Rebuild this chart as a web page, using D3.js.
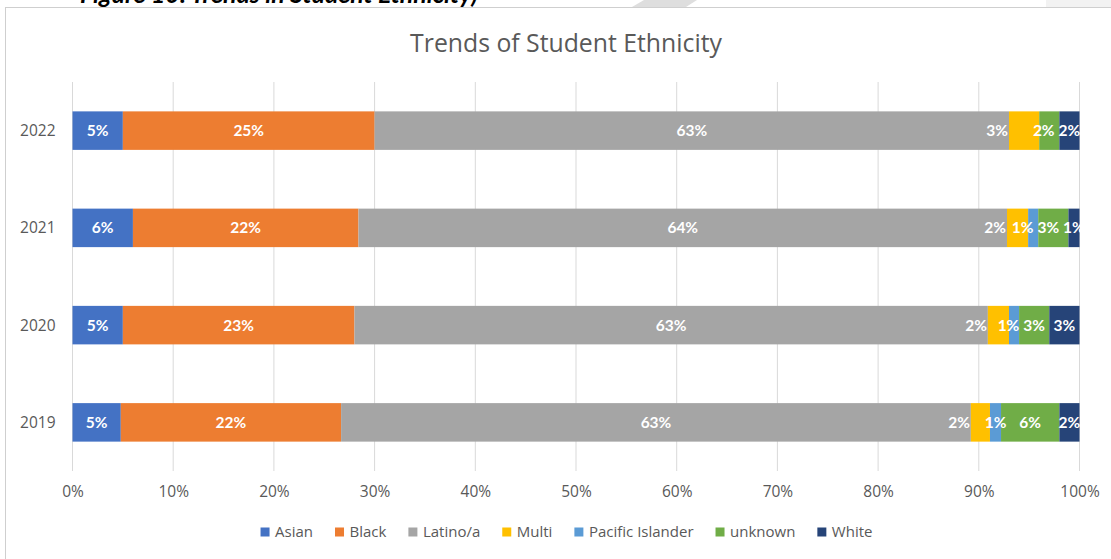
<!DOCTYPE html>
<html><head><meta charset="utf-8">
<script src="https://cdn.jsdelivr.net/npm/d3@7"></script>
<style>body{margin:0;background:#fff;overflow:hidden}</style>
</head><body>
<svg id="c" width="1111" height="559"></svg>
<script>
// ---- data ----
const years = ["2022", "2021", "2020", "2019"];
const seriesNames = ["Asian", "Black", "Latino/a", "Multi", "Pacific Islander", "unknown", "White"];
const asian   = [5.0, 6.0, 5.0, 4.8];
const black   = [25.0, 22.4, 23.0, 21.9];
const latino  = [63.0, 64.4, 62.9, 62.6];
const multi   = [3.0, 2.1, 2.1, 1.9];
const pacific = [0.0, 1.0, 1.0, 1.1];
const unknown = [2.0, 3.0, 3.0, 5.8];
const white   = [2.0, 1.1, 3.0, 2.0];
const xTickValues = [0, 0.1, 0.2, 0.3, 0.4, 0.5, 0.6, 0.7, 0.8, 0.9, 1.0];
const titleText = "Trends of Student Ethnicity";
const captionText = "Figure 10: Trends in Student Ethnicity)";

const seriesValues = [asian, black, latino, multi, pacific, unknown, white];
const colors = ["#4472C4", "#ED7D31", "#A5A5A5", "#FFC000", "#5B9BD5", "#70AD47", "#264478"];

const rows = years.map((y, i) => {
  const r = { year: y };
  seriesNames.forEach((s, k) => r[s] = seriesValues[k][i]);
  return r;
});

const svg = d3.select("#c");

// page decorations above the chart frame
svg.append("polygon").attr("points", "632,7 644,0 697,0 686,7").attr("fill", "#dedede");
svg.append("rect").attr("x", 1046).attr("y", 0).attr("width", 65).attr("height", 7).attr("fill", "#f2f2f2");

function fit(sel, target) {
  const fs = +sel.attr("font-size");
  const w = sel.node().getComputedTextLength();
  sel.attr("font-size", fs * target / w);
}

// caption (partly cut off at top)
const cap = svg.append("text").text(captionText)
  .attr("x", 80).attr("y", 3)
  .attr("font-family", "Lato").attr("font-weight", "bold").attr("font-style", "italic")
  .attr("font-size", 20).attr("fill", "#000");
fit(cap, 398);

// chart frame
svg.append("rect").attr("x", 5.5).attr("y", 7.5).attr("width", 1200).attr("height", 700)
  .attr("fill", "#fff").attr("stroke", "#cfcfcf").attr("stroke-width", 1);

// title
const title = svg.append("text").text(titleText)
  .attr("x", 566).attr("y", 42).attr("text-anchor", "middle").attr("dominant-baseline", "central")
  .attr("font-family", "Open Sans").attr("font-size", 21).attr("fill", "#595959");
fit(title, 312);

// scales
const plot = { left: 72.5, right: 1079.5, top: 82, bottom: 471 };
const x = d3.scaleLinear().domain([0, 1]).range([plot.left, plot.right]);
const y = d3.scaleBand().domain(years).range([plot.top, plot.bottom]).paddingInner(0.604).paddingOuter(0.302);

// gridlines
svg.append("g").selectAll("line").data(xTickValues).join("line")
  .attr("x1", d => x(d)).attr("x2", d => x(d))
  .attr("y1", plot.top).attr("y2", plot.bottom)
  .attr("stroke", "#d9d9d9").attr("stroke-width", 1);

// x axis labels
const xAxis = d3.axisBottom(x).tickValues(xTickValues).tickFormat(d3.format(".0%")).tickSize(0).tickPadding(0);
const gx = svg.append("g").attr("transform", `translate(0,${plot.bottom})`).call(xAxis);
gx.select(".domain").remove();
gx.selectAll("text").attr("y", 21).attr("dy", "0.35em")
  .attr("font-family", "Open Sans").attr("font-size", 15.5).attr("fill", "#595959");

// y axis labels
const yAxis = d3.axisLeft(y).tickSize(0).tickPadding(0);
const gy = svg.append("g").attr("transform", `translate(${plot.left},0)`).call(yAxis);
gy.select(".domain").remove();
gy.selectAll("text").attr("x", -17).attr("dy", "0.35em")
  .attr("font-family", "Open Sans").attr("font-size", 15.5).attr("fill", "#595959");

// stack
const stack = d3.stack().keys(seriesNames).offset(d3.stackOffsetExpand);
const layers = stack(rows);

const gBars = svg.append("g");
layers.forEach((layer, k) => {
  gBars.append("g").attr("fill", colors[k]).selectAll("rect").data(layer).join("rect")
    .attr("x", d => x(d[0])).attr("width", d => Math.max(0, x(d[1]) - x(d[0])))
    .attr("y", d => y(d.data.year)).attr("height", y.bandwidth());
});

// data labels
svg.append("clipPath").attr("id", "pc").append("rect")
  .attr("x", plot.left).attr("y", plot.top).attr("width", plot.right - plot.left + 0.5).attr("height", plot.bottom - plot.top);
const gLab = svg.append("g").attr("clip-path", "url(#pc)");
years.forEach((yr, i) => {
  const labs = [];
  layers.forEach((layer, k) => {
    const d = layer[i];
    const v = seriesValues[k][i];
    if (!(v > 0)) return;
    const t = gLab.append("text").text(Math.round(v) + "%")
      .attr("y", y(yr) + y.bandwidth() / 2).attr("dy", "0.36em")
      .attr("font-family", "Lato").attr("font-weight", "bold").attr("font-size", 15.5)
      .attr("fill", "#fff").attr("text-anchor", "middle");
    const w = t.node().getComputedTextLength();
    let cx = (x(d[0]) + x(d[1])) / 2;
    if (seriesNames[k] === "Multi") cx = x(d[0]) - w / 2 - 1;
    labs.push({ t, w, cx, fixed: seriesNames[k] === "Multi" });
  });
  // resolve overlaps right-to-left
  for (let j = labs.length - 2; j >= 0; j--) {
    const a = labs[j], b = labs[j + 1];
    const limit = b.cx - b.w / 2 - 4;
    if (!a.fixed && a.cx + a.w / 2 > limit) a.cx = limit - a.w / 2;
  }
  labs.forEach(l => l.t.attr("x", l.cx));
});

// legend
const gLeg = svg.append("g");
const legGap = 22;
let lx = 0;
const items = [];
seriesNames.forEach((s, k) => {
  const g = gLeg.append("g");
  g.append("rect").attr("x", 0).attr("y", -4.5).attr("width", 9).attr("height", 9).attr("fill", colors[k]);
  const t = g.append("text").text(s).attr("x", 14.5).attr("dy", "0.35em")
    .attr("font-family", "Open Sans").attr("font-size", 15).attr("fill", "#595959");
  const w = 14.5 + t.node().getComputedTextLength();
  items.push({ g, w });
});
items.forEach(it => { it.g.attr("transform", `translate(${lx},0)`); lx += it.w + legGap; });
const legW = lx - legGap;
gLeg.attr("transform", `translate(${566.5 - legW / 2},532)`);
</script>
</body></html>
